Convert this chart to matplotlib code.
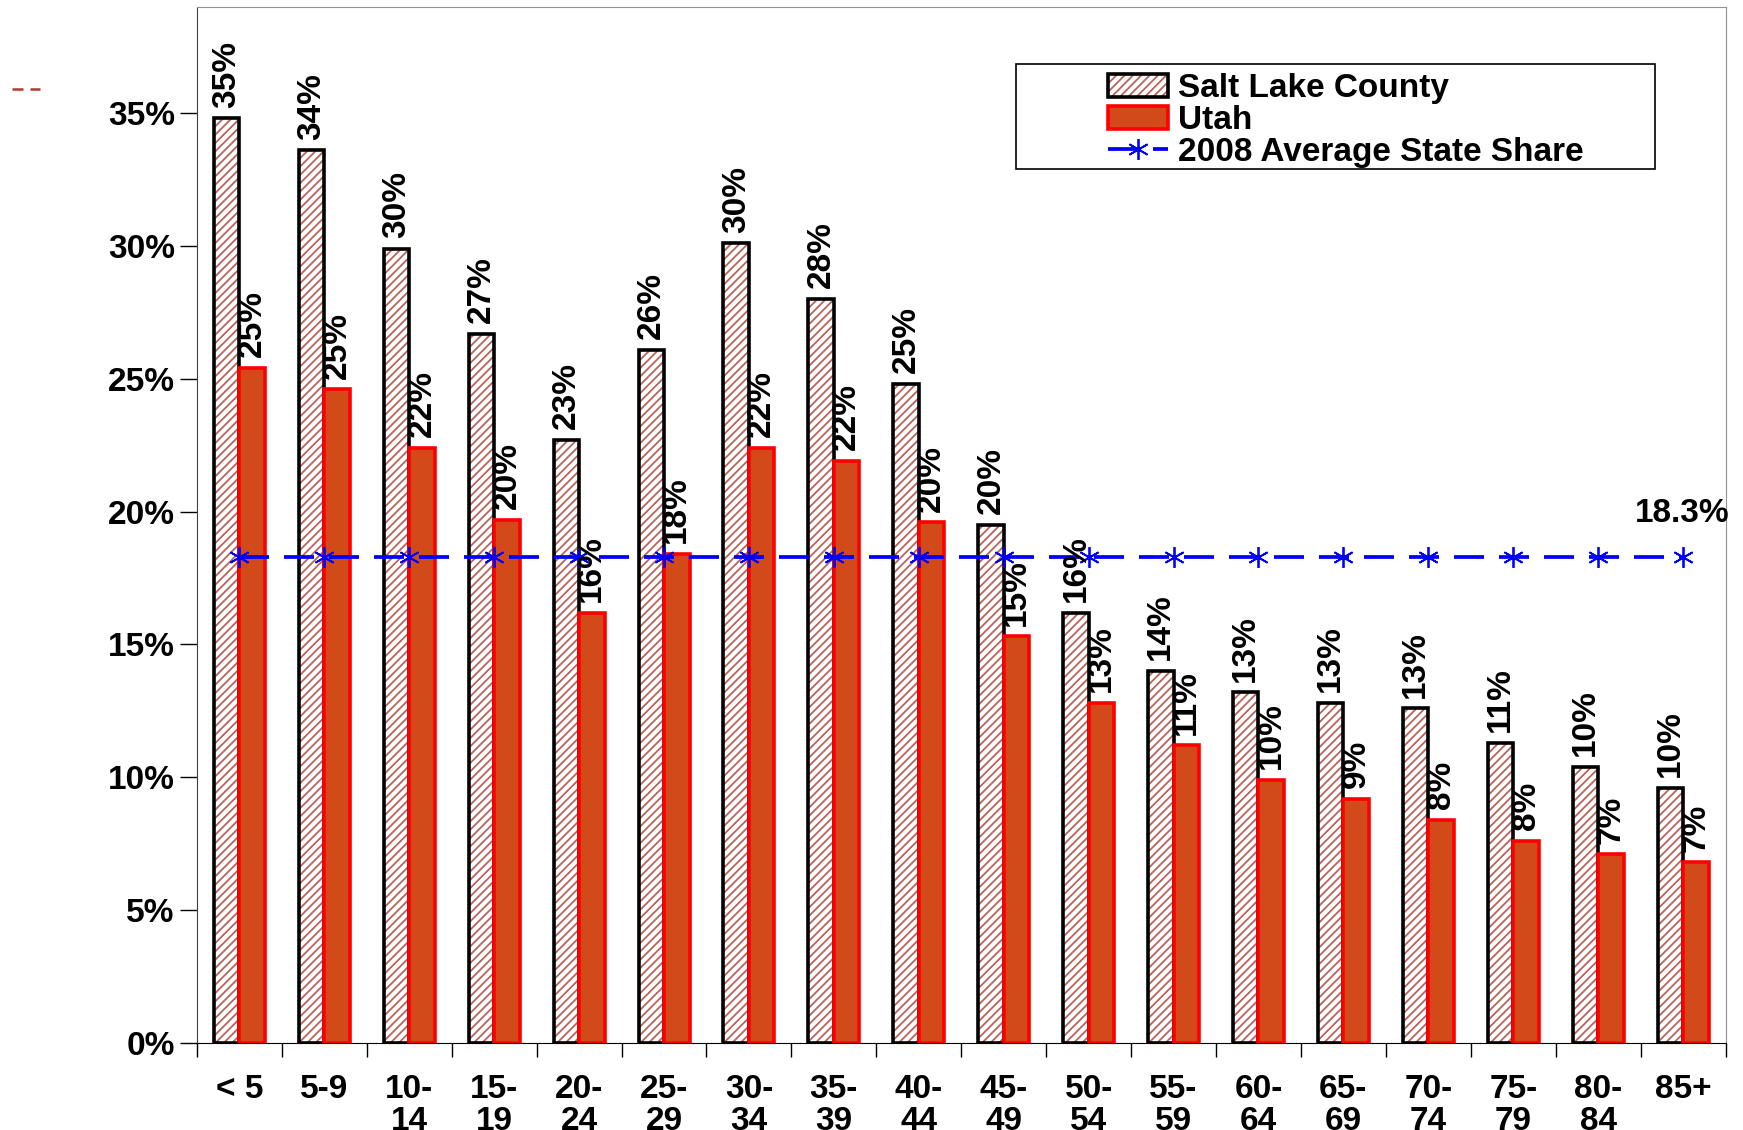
import matplotlib
matplotlib.use('Agg')
import matplotlib.pyplot as plt
from matplotlib.patches import Patch, Rectangle
from matplotlib.lines import Line2D
import numpy as np

# chart data (percent)
age_groups = ['< 5', '5-9', '10-\n14', '15-\n19', '20-\n24', '25-\n29', '30-\n34', '35-\n39',
              '40-\n44', '45-\n49', '50-\n54', '55-\n59', '60-\n64', '65-\n69', '70-\n74',
              '75-\n79', '80-\n84', '85+']
salt_lake = [34.8, 33.6, 29.9, 26.7, 22.7, 26.1, 30.1, 28.0, 24.8, 19.5, 16.2, 14.0, 13.2, 12.8,
             12.6, 11.3, 10.4, 9.6]
utah = [25.4, 24.6, 22.4, 19.7, 16.2, 18.4, 22.4, 21.9, 19.6, 15.3, 12.8, 11.2, 9.9, 9.2, 8.4,
        7.6, 7.1, 6.8]
state_avg = 18.3
y_ticks = [0, 5, 10, 15, 20, 25, 30, 35]

plt.rcParams['font.family'] = ['Liberation Sans', 'DejaVu Sans']
plt.rcParams['font.weight'] = 'bold'
plt.rcParams['hatch.linewidth'] = 1.3

FS = 24
hatch_col = '#b8645a'
utah_face = '#d24a1a'

fig = plt.figure(figsize=(17.43, 11.30), dpi=100)
ax = fig.add_axes([0.113, 0.077, 0.877, 0.917])

x = np.arange(len(age_groups))
w = 0.3

# Salt Lake County: hatched fill + black outline
ax.bar(x - w / 2, salt_lake, w, color='white', edgecolor=hatch_col, hatch='////', linewidth=0, zorder=2)
ax.bar(x - w / 2, salt_lake, w, fill=False, edgecolor='black', linewidth=2.6, zorder=3)
# Utah
ax.bar(x + w / 2, utah, w, color=utah_face, edgecolor='#ff0000', linewidth=2.6, zorder=3)

# state average line
ax.plot(x, [state_avg] * len(x), color='#0000ff', linewidth=2.7, dashes=(8, 4),
        marker=(6, 2, 0), markersize=15, markeredgewidth=1.3, zorder=4)
ax.text(17.55, state_avg + 1.05, f'{state_avg}%', ha='right', va='bottom', fontsize=FS,
        fontweight='bold', zorder=6)

# value labels
for i in range(len(x)):
    ax.text(x[i] - w / 2, salt_lake[i] + 0.4, f'{salt_lake[i]:.0f}%', rotation=90, ha='center',
            va='bottom', fontsize=FS, fontweight='bold', zorder=6)
    ax.text(x[i] + w / 2, utah[i] + 0.4, f'{utah[i]:.0f}%', rotation=90, ha='center',
            va='bottom', fontsize=FS, fontweight='bold', zorder=6)

ax.set_xlim(-0.5, len(x) - 0.5)
ax.set_ylim(0, 39)
ax.set_yticks(y_ticks)
ax.set_yticklabels([f'{t}%' for t in y_ticks])
ax.set_xticks(x)
ax.set_xticklabels(age_groups, linespacing=1.05)
ax.set_xticks(np.arange(-0.5, len(x), 1), minor=True)
ax.tick_params(axis='x', which='major', length=0, pad=22, labelsize=FS)
ax.tick_params(axis='x', which='minor', length=10, width=1, direction='out')
ax.tick_params(axis='y', length=12, width=1, direction='out', pad=4, labelsize=FS)
for lbl in ax.get_xticklabels() + ax.get_yticklabels():
    lbl.set_fontweight('bold')

ax.spines['left'].set_color('#404040')
ax.spines['bottom'].set_color('black')
ax.spines['top'].set_color('#909090')
ax.spines['right'].set_color('#909090')

# legend with its own frame
ax.add_patch(Rectangle((0.536, 0.843), 0.418, 0.102, transform=ax.transAxes, fill=False,
                       edgecolor='black', linewidth=1.2, zorder=7))
h_slc = (Patch(facecolor='white', edgecolor=hatch_col, hatch='////', linewidth=0),
         Patch(fill=False, edgecolor='black', linewidth=2.6))
h_utah = Patch(facecolor=utah_face, edgecolor='#ff0000', linewidth=2.6)
h_avg = Line2D([], [], color='#0000ff', linewidth=2.7, dashes=(8, 4), marker=(6, 2, 0),
               markersize=15, markeredgewidth=1.3)
leg = ax.legend([h_slc, h_utah, h_avg], ['Salt Lake County', 'Utah', '2008 Average State Share'],
                loc='upper left', bbox_to_anchor=(0.585, 0.952), frameon=False,
                borderpad=0, labelspacing=0.02, handlelength=1.8, handletextpad=0.3,
                prop={'weight': 'bold', 'size': FS})
leg.set_zorder(8)

# stray dash mark at top left
fig.add_artist(Line2D([12 / 1743, 40 / 1743], [1 - 89 / 1130, 1 - 89 / 1130], color='#b03a2e',
                      linewidth=1.8, dashes=(4.4, 2.8)))

fig.savefig('out.png', dpi=100)
